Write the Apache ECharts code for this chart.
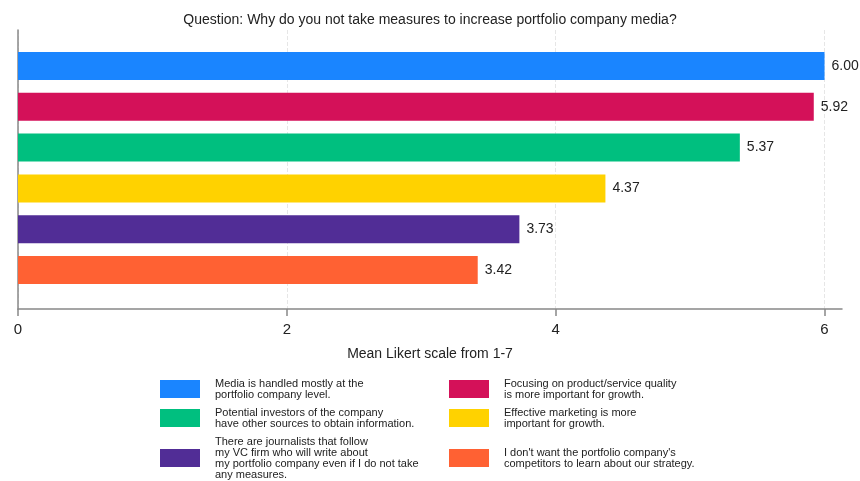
<!DOCTYPE html>
<html>
<head>
<meta charset="utf-8">
<script src="https://cdn.jsdelivr.net/npm/echarts@6/dist/echarts.min.js"></script>
<style>
  html, body { margin: 0; padding: 0; background: #fff; }
  #chart { width: 860px; height: 481px; }
</style>
</head>
<body>
<div id="chart"></div>
<script>
// Survey answers (mean Likert score, 1-7)
const categories = [
  'Media is handled mostly at the\nportfolio company level.',
  'Focusing on product/service quality\nis more important for growth.',
  'Potential investors of the company\nhave other sources to obtain information.',
  'Effective marketing is more\nimportant for growth.',
  'There are journalists that follow\nmy VC firm who will write about\nmy portfolio company even if I do not take\nany measures.',
  "I don't want the portfolio company's\ncompetitors to learn about our strategy."
];
const meanScores = [6.00, 5.92, 5.37, 4.37, 3.73, 3.42];
const barColors = ['#1A85FF', '#D41159', '#00BF7F', '#FFD200', '#512D96', '#FF6133'];
const xTicks = [0, 2, 4, 6];

const xMax = 6.13;
const fontFamily = '"Liberation Sans", Arial, sans-serif';

// one series per answer, so every bar gets its own legend entry
const series = categories.map((name, i) => ({
  name: name,
  type: 'bar',
  xAxisIndex: 1,
  yAxisIndex: 1,
  stack: 'all',
  barWidth: 28,
  itemStyle: { color: barColors[i] },
  label: {
    show: true,
    position: 'right',
    distance: 7,
    fontFamily: fontFamily,
    fontSize: 14,
    color: '#222',
    formatter: p => Number(p.value).toFixed(2)
  },
  data: meanScores.map((v, j) => (j === i ? v : null))
}));

// legend: two columns, three rows
const legendSlots = [
  { left: 160, center: 389 }, { left: 449, center: 389 },
  { left: 160, center: 418 }, { left: 449, center: 418 },
  { left: 160, center: 458 }, { left: 449, center: 458 }
];
const legends = categories.map((name, i) => {
  const lines = name.split('\n').length;
  return {
    data: [name],
    left: legendSlots[i].left,
    top: legendSlots[i].center - lines * 11 / 2,
    padding: 0,
    itemWidth: 40,
    itemHeight: 18,
    icon: 'rect',
    selectedMode: false,
    textStyle: {
      fontFamily: fontFamily,
      fontSize: 11,
      lineHeight: 11,
      color: '#222',
      padding: [0, 0, 0, 10]
    }
  };
});

const chart = echarts.init(document.getElementById('chart'), null, { renderer: 'canvas' });
chart.setOption({
  animation: false,
  backgroundColor: '#fff',
  title: {
    text: 'Question: Why do you not take measures to increase portfolio company media?',
    left: 'center',
    top: 8,
    textStyle: { fontFamily: fontFamily, fontSize: 14, fontWeight: 'normal', color: '#222' }
  },
  legend: legends,
  grid: [
    { left: 18, right: 18, top: 30, bottom: 172 },
    { left: 18, right: 18, top: 45.5, bottom: 190.5 }
  ],
  xAxis: [
    {
      gridIndex: 0,
      type: 'value',
      min: 0,
      max: xMax,
      interval: 2,
      name: 'Mean Likert scale from 1-7',
      nameLocation: 'middle',
      nameGap: 38,
      nameTextStyle: { fontFamily: fontFamily, fontSize: 14, color: '#222' },
      axisLine: { show: true, lineStyle: { color: '#888', width: 1.5 } },
      axisTick: { show: true, length: 7, lineStyle: { color: '#888', width: 1.5 }, customValues: xTicks },
      axisLabel: { fontFamily: fontFamily, fontSize: 15, color: '#222', margin: 13, customValues: xTicks },
      splitLine: { show: true, lineStyle: { color: '#e6e6e6', type: 'dashed' } }
    },
    {
      gridIndex: 1,
      type: 'value',
      min: 0,
      max: xMax,
      show: false
    }
  ],
  yAxis: [
    {
      gridIndex: 0,
      type: 'value',
      min: 0,
      max: 1,
      axisLine: { show: true, lineStyle: { color: '#888', width: 1.5 } },
      axisTick: { show: false },
      axisLabel: { show: false },
      splitLine: { show: false }
    },
    {
      gridIndex: 1,
      type: 'category',
      inverse: true,
      data: categories,
      show: false
    }
  ],
  series: series
});
</script>
</body>
</html>
